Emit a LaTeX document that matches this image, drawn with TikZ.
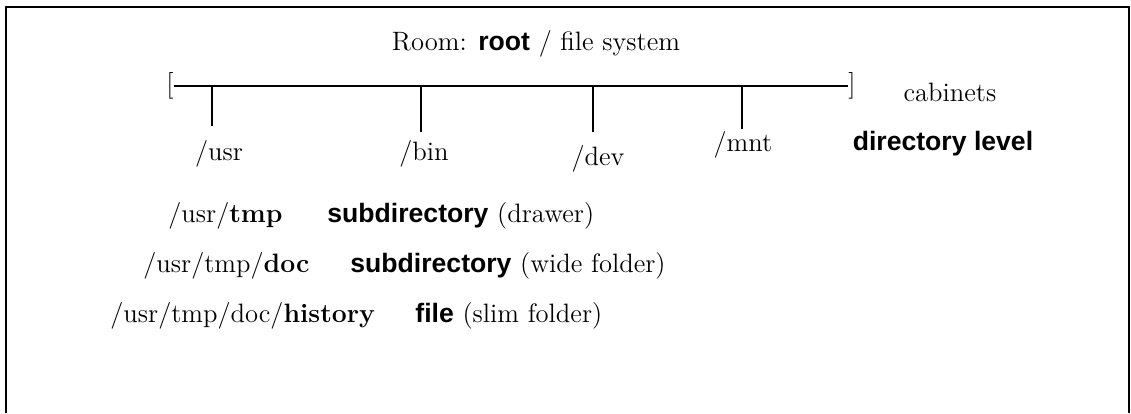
\documentclass[tikz,border=0pt]{standalone}
\usepackage{fontspec}
\newfontfamily\hsans{Liberation Sans}
\begin{document}
\begin{tikzpicture}[x=0.5pt,y=-0.5pt,
  txt/.style={inner sep=0pt,font=\fontsize{13.3}{16}\selectfont},
  pathlbl/.style={txt,anchor=base west},
  dirlbl/.style={txt,anchor=base},
  frameline/.style={line width=1pt},
  rail/.style={line width=0.8pt},
  tick/.style={line width=1pt}]
\useasboundingbox (0,0) rectangle (1131,413);

% open frame around the figure
\draw[frameline] (6,413) -- (6,7) -- (1129,7) -- (1129,413);

% title
\node[dirlbl] (room) at (536,50) {Room: {\hsans\bfseries root} / file system};

% bracketed rail of cabinets
\node[txt] (lb) at (170,86) {[};
\node[txt] (rb) at (852,86) {]};
\draw[rail] (lb.east) -- (rb.west);

% ticks hanging from the rail
\coordinate (u1) at (212,87);  \coordinate (u2) at (212,126);
\coordinate (b1) at (421,87);  \coordinate (b2) at (421,132);
\coordinate (d1) at (593,87);  \coordinate (d2) at (593,132);
\coordinate (m1) at (742,87);  \coordinate (m2) at (742,129);
\draw[tick] (u1) -- (u2);
\draw[tick] (b1) -- (b2);
\draw[tick] (d1) -- (d2);
\draw[tick] (m1) -- (m2);

% directory names
\node[dirlbl] (usr) at (219,160) {/usr};
\node[dirlbl] (bin) at (424,160) {/bin};
\node[dirlbl] (dev) at (598,165) {/dev};
\node[dirlbl] (mnt) at (743,151) {/mnt};

% legend on the right
\node[dirlbl] (cab) at (950,101) {cabinets};
\node[dirlbl] (lvl) at (943,150) {\hsans\bfseries directory level};

% deeper paths and their meaning
\node[pathlbl] (p1) at (168,222) {/usr/\textbf{tmp}};
\node[pathlbl] (l1) at (327,222) {{\hsans\bfseries subdirectory} (drawer)};
\node[pathlbl] (p2) at (143,272) {/usr/tmp/\textbf{doc}};
\node[pathlbl] (l2) at (350,272) {{\hsans\bfseries subdirectory} (wide folder)};
\node[pathlbl] (p3) at (110,322) {/usr/tmp/doc/\textbf{history}};
\node[pathlbl] (l3) at (415,322) {{\hsans\bfseries file} (slim folder)};
\end{tikzpicture}
\end{document}
